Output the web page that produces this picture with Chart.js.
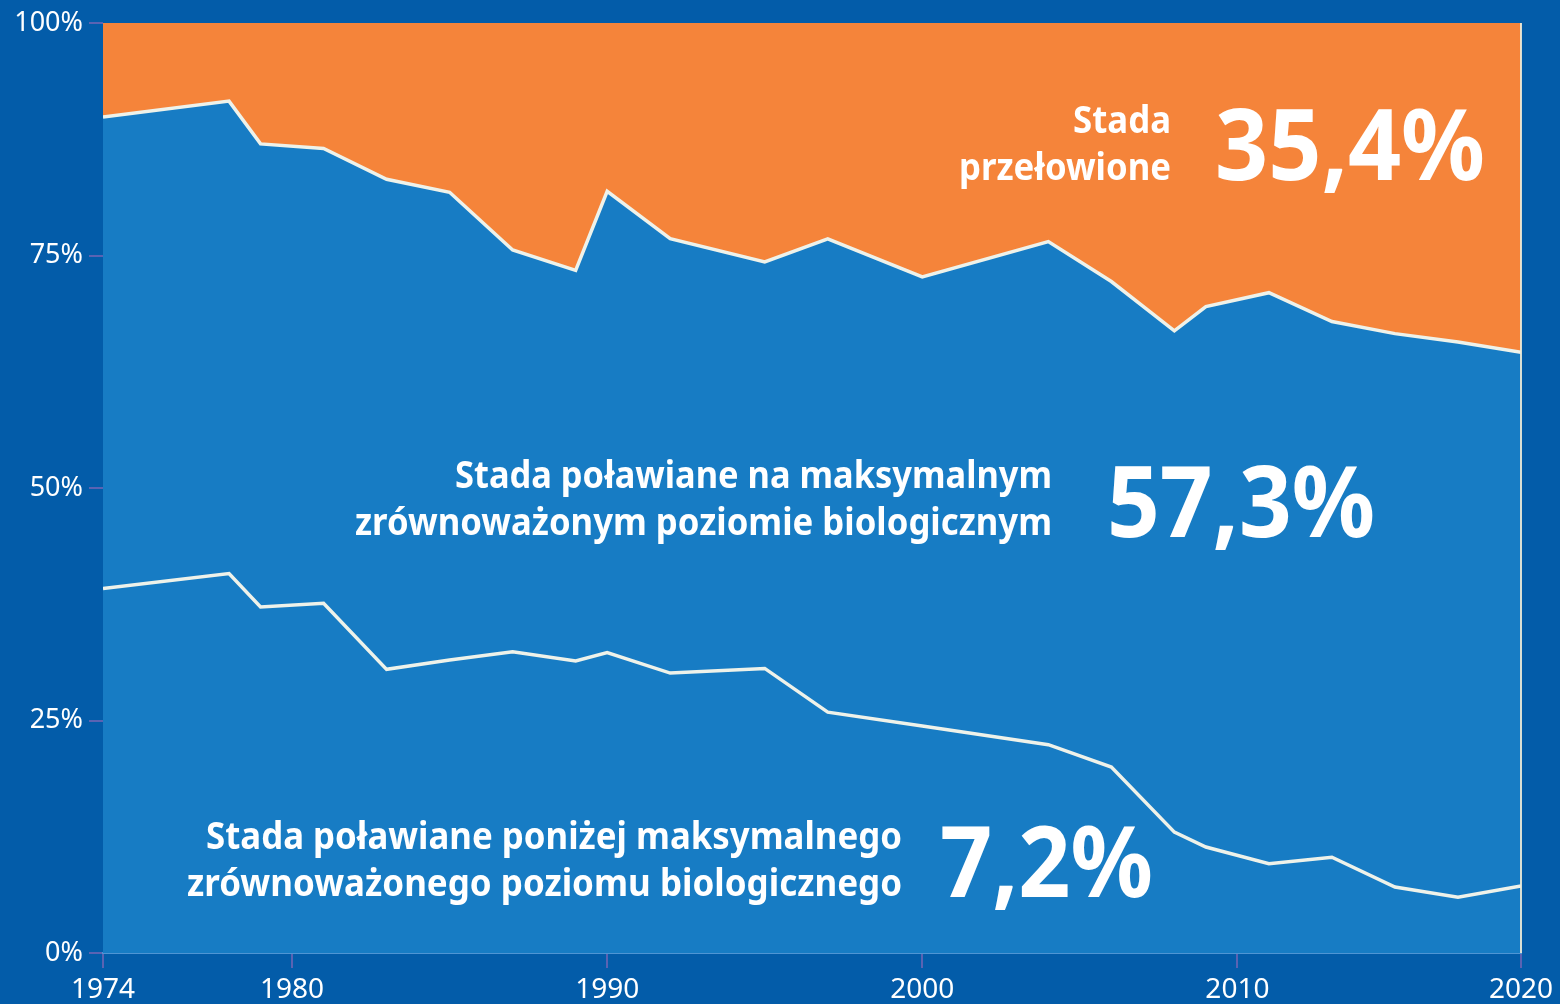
<!DOCTYPE html>
<html>
<head>
<meta charset="utf-8">
<script src="https://cdn.jsdelivr.net/npm/chart.js@4.4.0/dist/chart.umd.min.js"></script>
<style>
  html, body { margin: 0; padding: 0; background: #035ca9; }
  #wrap { width: 1560px; height: 1004px; position: relative; }
</style>
</head>
<body>
<div id="wrap"><canvas id="myChart" width="1560" height="1004"></canvas></div>
<script>
// lata pomiarów
const years = [1974, 1978, 1979, 1981, 1983, 1985, 1987, 1989, 1990, 1992, 1995,
               1997, 2000, 2004, 2006, 2008, 2009, 2011, 2013, 2015, 2017, 2019];

// udział stad (%)
const underFished = [39.2, 40.8, 37.2, 37.6, 30.5, 31.5, 32.4, 31.4, 32.3, 30.1, 30.6,
                     25.9, 24.4, 22.4, 20.0, 13.0, 11.4, 9.6, 10.3, 7.1, 6.0, 7.2];
const maxSustainable = [50.7, 50.8, 49.8, 48.9, 52.7, 50.3, 43.2, 42.0, 49.6, 46.7, 43.7,
                        50.9, 48.3, 54.1, 52.2, 53.9, 58.1, 61.4, 57.6, 59.5, 59.7, 57.4];
const overFished = [10.1, 8.4, 13.0, 13.5, 16.8, 18.2, 24.4, 26.6, 18.1, 23.2, 25.7,
                    23.2, 27.3, 23.5, 27.8, 33.1, 30.5, 29.0, 32.1, 33.4, 34.3, 35.4];

// osie
const xTickYears = [1974, 1980, 1990, 2000, 2010, 2019];
const xTickLabels = ['1974', '1980', '1990', '2000', '2010', '2020'];
const yTicks = [0, 25, 50, 75, 100];

// opisy na wykresie
const labelOver = ['Stada', 'przełowione'];
const labelSustainable = ['Stada poławiane na maksymalnym', 'zrównoważonym poziomie biologicznym'];
const labelUnder = ['Stada poławiane poniżej maksymalnego', 'zrównoważonego poziomu biologicznego'];
const valueOver = '35,4%';
const valueSustainable = '57,3%';
const valueUnder = '7,2%';

function toPoints(arr){
  return arr.map((v, i) => ({ x: years[i], y: v }));
}

const BLUE = '#177cc4';
const ORANGE = '#f5843a';
const LINE = '#eef2ea';
const TICK = '#5a63b3';

// napisy i prawa krawędź
const textPlugin = {
  id: 'texts',
  afterDatasetsDraw(chart){
    const ctx = chart.ctx;
    const a = chart.chartArea;
    ctx.save();
    ctx.strokeStyle = 'rgba(240,235,215,0.9)';
    ctx.lineWidth = 2;
    ctx.beginPath();
    ctx.moveTo(a.right, a.top);
    ctx.lineTo(a.right, a.bottom);
    ctx.stroke();

    ctx.fillStyle = '#ffffff';
    ctx.textAlign = 'right';
    ctx.textBaseline = 'alphabetic';
    const small = 'bold 37px "Noto Sans", sans-serif';
    const big = 'bold 98px "Noto Sans", sans-serif';

    function block(lines, widths, right, baselines){
      ctx.font = small;
      lines.forEach((t, i) => ctx.fillText(t, right, baselines[i], widths[i]));
    }
    function bigText(t, left, width, baseline){
      ctx.font = big;
      ctx.textAlign = 'left';
      ctx.fillText(t, left, baseline, width);
      ctx.textAlign = 'right';
    }

    block(labelOver, [98, 212], 1171, [133, 180]);
    bigText(valueOver, 1215, 270, 180);

    block(labelSustainable, [597, 697], 1052, [488, 535]);
    bigText(valueSustainable, 1107, 268, 537);

    block(labelUnder, [696, 715], 902, [849, 896]);
    bigText(valueUnder, 940, 213, 897);
    ctx.restore();
  }
};

window.onload = () => {
  const ctx = document.getElementById('myChart').getContext('2d');
  new Chart(ctx, {
    type: 'line',
    data: {
      datasets: [
        {
          label: 'poniżej',
          data: toPoints(underFished),
          backgroundColor: BLUE,
          borderColor: LINE,
          borderWidth: 3.5,
          fill: 'origin'
        },
        {
          label: 'maksymalny',
          data: toPoints(maxSustainable),
          backgroundColor: BLUE,
          borderColor: LINE,
          borderWidth: 3.5,
          fill: '-1'
        },
        {
          label: 'przełowione',
          data: toPoints(overFished),
          backgroundColor: ORANGE,
          borderColor: ORANGE,
          borderWidth: 0,
          fill: '-1'
        }
      ]
    },
    options: {
      responsive: false,
      animation: false,
      events: [],
      layout: { padding: { top: 23, right: 39, left: 0, bottom: 0 } },
      elements: {
        point: { radius: 0 },
        line: { tension: 0, borderJoinStyle: 'miter' }
      },
      plugins: {
        legend: { display: false },
        tooltip: { enabled: false }
      },
      scales: {
        x: {
          type: 'linear',
          min: 1974,
          max: 2019,
          afterBuildTicks: (s) => { s.ticks = xTickYears.map(v => ({ value: v })); },
          afterFit: (s) => { s.height = 51; },
          grid: {
            drawOnChartArea: false,
            drawTicks: true,
            tickLength: 15,
            color: TICK,
            lineWidth: 2
          },
          border: { display: true, color: '#4f95d4', width: 2 },
          ticks: {
            autoSkip: false,
            maxRotation: 0,
            padding: 5,
            color: '#ffffff',
            font: { family: '"Noto Sans", sans-serif', size: 28 },
            callback: (v, i) => xTickLabels[i]
          }
        },
        y: {
          stacked: true,
          min: 0,
          max: 100,
          afterBuildTicks: (s) => { s.ticks = yTicks.map(v => ({ value: v })); },
          afterFit: (s) => { s.width = 103; },
          grid: {
            drawOnChartArea: false,
            drawTicks: true,
            tickLength: 14,
            color: TICK,
            lineWidth: 2
          },
          border: { display: false },
          ticks: {
            padding: 6,
            color: '#ffffff',
            font: { family: '"Noto Sans", sans-serif', size: 27 },
            callback: (v) => v + '%'
          }
        }
      }
    },
    plugins: [textPlugin]
  });
};
</script>
</body>
</html>
